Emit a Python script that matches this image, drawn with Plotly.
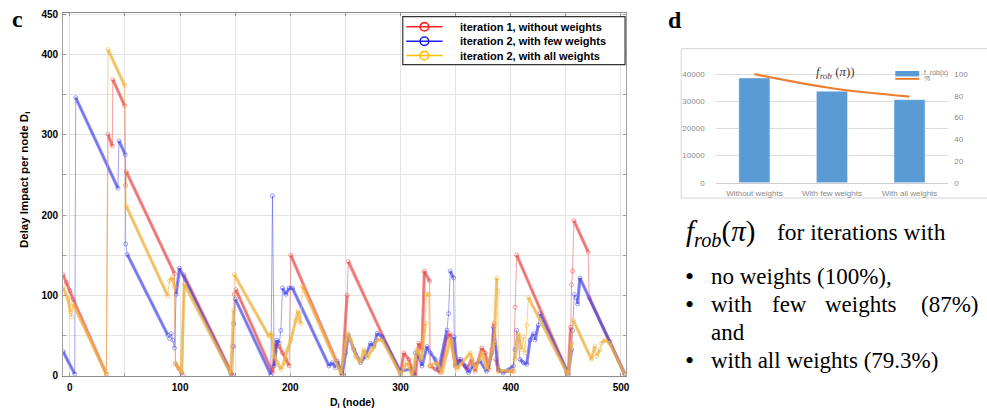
import plotly.graph_objects as go

# ---------------- panel c data (node index D_i vs delay impact) ----------------
red_x = [-6.2, -3.1, 0, 2.9, 33.1, 34.6, 38.5, 39, 49.7, 50.5, 51.2, 94.9, 95.8, 99, 101.5, 102.4,
         103.3, 147.7, 148.6, 149.2, 150.7, 183.8, 186.9, 189.9, 192.9, 195.9, 198.9, 200.4, 247,
         251.5, 252.6, 300, 302.9, 307.4, 310.4, 313.5, 316.5, 319.5, 321.6, 326.4, 327, 331.5, 336,
         342.1, 345.1, 349.6, 352.6, 360.2, 364.7, 367.7, 373.8, 376.8, 379.8, 382.8, 384.9, 386.5,
         388.8, 402.4, 403.9, 405.4, 452.2, 454.3, 455.2, 456.1, 457.3, 470.2, 471.1, 503.4]
red_y = [125.6, 115.4, 105.3, 95, 1.5, 300.7, 286, 369, 336.5, 237, 254, 127, 15, 8, 3, 0,
         125.6, 0, 36, 101, 107, 3.5, 40, 36, 28, 20, 12, 150, 1,
         100, 142, 1.5, 28, 20, 7.6, 0, 40, 32, 130, 117.5, 11.6, 7.6, 3.5,
         48, 52, 11.6, 20, 7.6, 20, 5, 34, 28, 7.6, 32, 65, 20,
         5, 5, 85, 150, 1.5, 60, 113, 130, 193, 154, 97, 1.5]

blue_x = [-6.2, 4.4, 5.3, 43.6, 44.5, 50.3, 50.6, 52.1, 88.8, 90.4, 91.9, 93.4, 94.9, 96.4, 99.4,
          146.2, 147.7, 148.6, 150.1, 182.3, 183.8, 185.4, 187.8, 189.9, 191.4, 192.9, 195.9, 198.9,
          201.9, 235.1, 238.1, 241.1, 242.6, 247.1, 250.2, 252.6, 257.7, 263.7, 268.2, 272.8, 275.8,
          278.8, 283.3, 299.9, 309, 312, 313.5, 316.5, 319.5, 324, 327, 331.5, 334.6, 342.1, 343.6,
          345.1, 348.1, 348.7, 351.1, 354.8, 358.7, 361.7, 366, 372, 378, 382.8, 384.3, 388.8, 393,
          402.4, 403.9, 405.4, 406.9, 408.4, 411.4, 414.5, 417.5, 420.5, 422, 425, 426.5, 450.6,
          452.2, 455.2, 456.1, 457.6, 459.1, 460.6, 462.7, 489.8, 503.4]
blue_y = [29.7, 1.5, 346.6, 233.5, 292.5, 275.4, 164, 150.8, 50.3, 46, 52, 44, 34, 101, 133.7,
          1.5, 36, 64.5, 95, 0.6, 224, 11.6, 44, 40, 56, 109, 101, 109,
          109, 11.6, 15.7, 9.6, 17.7, 1.5, 28, 50.3, 32, 15.7, 23.8, 40, 36,
          52.3, 48.3, 5.5, 7.6, 0, 28, 24, 11.6, 36, 28, 19.8, 7.6, 56.4, 77,
          130, 121.5, 48, 11.6, 19.8, 11.6, 3.5, 12, 18, 5, 28, 60, 7.6, 3,
          11.6, 32, 56, 44, 19.8, 15.7, 13.7, 44, 52, 44, 62.5, 76.8, 5.5,
          1.5, 32, 56, 101, 97, 89, 121.5, 42, 1.5]

yellow_x = [-6.2, -1.6, 0.5, 1.4, 2.9, 33.1, 34.6, 49.7, 51.2, 88.8, 90.4, 93, 95, 95.8, 101, 103.9,
            146, 148.6, 149.2, 180.8, 182.9, 185.4, 188.4, 191.4, 194.4, 197.4, 200.4, 205, 207,
            209.5, 211, 246, 251.7, 254.7, 259.2, 263.7, 266.7, 269.8, 274.3, 278.8, 283.3, 299.9,
            305.9, 310.4, 315, 319, 322.5, 323.4, 325.5, 326.4, 333, 337.6, 345.1, 351.1, 363.2,
            367.7, 373.8, 378.3, 385, 387.3, 388.2, 388.8, 390.3, 402.4, 403.9, 406.9, 409.9, 411.4,
            413, 414.5, 416, 450.6, 452.2, 455.2, 456.7, 473.2, 476.3, 477.8, 480.8, 482.3, 485.3,
            489.8, 503.4]
yellow_y = [109.3, 95, 79, 73, 89, 1.5, 406.5, 361.7, 211, 99, 118, 122, 110, 15, 3.5, 113.4,
            2, 81, 125.6, 48.3, 52.3, 23.8, 15.7, 7.6, 15.7, 32, 44, 68.6, 80,
            64.5, 111, 2, 52.3, 44.2, 23.8, 15.7, 32, 21.8, 32, 44.2, 44.2, 1.5,
            15.7, 0, 32, 20, 65, 101, 101, 11.6, 15.7, 3.5, 44, 7.6, 28,
            7.6, 28, 7.6, 40, 121.5, 105, 7.6, 5.5, 5.5, 20, 52, 32, 48,
            28, 62.5, 97, 4, 1.5, 40, 68.6, 19.8, 36, 23.8, 32, 40, 44.2,
            40, 1.5]

series_names = ["iteration 1, without weights", "iteration 2, with few weights",
                "iteration 2, with all weights"]
x_ticks = [0, 100, 200, 300, 400, 500]
y_ticks = [0, 100, 200, 300, 400, 450]

# ---------------- panel d data ----------------
bar_categories = ["Without weights", "With few weights", "With all weights"]
frob_values = [38560, 33650, 30600]
frob_percent = [100, 87, 79.3]
left_ticks = [0, 10000, 20000, 30000, 40000]
right_ticks = [0, 20, 40, 60, 80, 100]

W, H = 987, 418
def px(x):
    return x / W
def py(y):
    return 1 - y / H

def ramp_segments(xs, ys, min_dx=2.0):
    bx, by = [], []
    for i in range(len(xs) - 1):
        if xs[i + 1] - xs[i] >= min_dx:
            bx += [xs[i], xs[i + 1], None]
            by += [ys[i], ys[i + 1], None]
    return bx, by

fig = go.Figure()

band_cols = ["rgba(232,70,70,0.62)", "rgba(70,70,232,0.62)", "rgba(240,180,70,0.7)"]
thin_cols = ["rgba(236,70,70,0.5)", "rgba(70,70,236,0.5)", "rgba(242,180,60,0.6)"]
legend_cols = ["#ff2020", "#2020ff", "#ffbf00"]

for (xs, ys), bc, tc in zip([(red_x, red_y), (blue_x, blue_y), (yellow_x, yellow_y)],
                            band_cols, thin_cols):
    bx, by = ramp_segments(xs, ys)
    fig.add_trace(go.Scatter(x=bx, y=by, mode="lines", line=dict(color=bc, width=3.2),
                             showlegend=False, hoverinfo="skip", xaxis="x", yaxis="y"))
    fig.add_trace(go.Scatter(x=xs, y=ys, mode="lines+markers", line=dict(color=tc, width=1),
                             marker=dict(symbol="circle-open", size=4, color=tc, line=dict(width=1)),
                             showlegend=False, hoverinfo="skip", xaxis="x", yaxis="y"))

# panel d
fig.add_trace(go.Bar(x=bar_categories, y=frob_values, marker_color="#5b9bd5", width=0.4,
                     showlegend=False, xaxis="x2", yaxis="y2"))
fig.add_trace(go.Scatter(x=bar_categories, y=frob_percent, mode="lines",
                         line=dict(color="#ed7d31", width=2.2, shape="spline"),
                         showlegend=False, cliponaxis=False, xaxis="x2", yaxis="y3"))

tick_font = dict(family="Liberation Sans", size=10, color="black", weight="bold")
small_font = dict(family="Liberation Sans", size=8, color="#8a8a8a")

fig.update_layout(
    width=W, height=H, autosize=False,
    margin=dict(l=0, r=0, t=0, b=0),
    paper_bgcolor="white", plot_bgcolor="white",
    hovermode=False, showlegend=False,
    xaxis=dict(domain=[px(63.3), px(628.3)], range=[-6.15, 504.9], tickvals=x_ticks,
               tickfont=tick_font, showgrid=True, gridcolor="#e4e4e4",
               minor=dict(dtick=50, tick0=0, showgrid=True, gridcolor="#e4e4e4",
                          ticks="inside", ticklen=3, tickcolor="#999"),
               ticks="inside", ticklen=3, tickcolor="#999", showline=True, linecolor="#8c8c8c",
               mirror="ticks", zeroline=False, anchor="y", ticklabelstandoff=2),
    yaxis=dict(domain=[py(380.3), py(9.3)], range=[-1, 452], tickvals=y_ticks,
               tickfont=tick_font, showgrid=True, gridcolor="#e4e4e4",
               minor=dict(dtick=50, tick0=0, showgrid=True, gridcolor="#e4e4e4",
                          ticks="inside", ticklen=3, tickcolor="#999"),
               ticks="inside", ticklen=3, tickcolor="#999", showline=True, linecolor="#a0a0a0",
               mirror="ticks", zeroline=False, anchor="x", ticklabelstandoff=2),
    xaxis2=dict(domain=[px(717.8), px(951.2)], anchor="y2", tickfont=small_font,
                showline=True, linecolor="#d0d0d0", ticks="", showgrid=False,
                ticklabelstandoff=3),
    yaxis2=dict(domain=[py(182.7), py(66.1)], range=[0, 42000], tickvals=left_ticks,
                tickformat="d", tickfont=small_font, showgrid=True, gridcolor="#dcdcdc",
                zeroline=False, showline=False, anchor="x2", ticklabelstandoff=10),
    yaxis3=dict(domain=[py(182.7), py(66.1)], range=[0, 105], tickvals=right_ticks,
                tickfont=small_font, overlaying="y2", side="right", showgrid=False,
                zeroline=False, showline=False, anchor="x2", ticklabelstandoff=5),
)

def note(x, y, text, font, anchor="left", **kw):
    return dict(x=px(x), y=py(y), xref="paper", yref="paper", text=text, showarrow=False,
                xanchor=anchor, yanchor="middle", font=font, **kw)

annotations = [
    note(17.5, 15, "<b>c</b>", dict(family="Liberation Serif", size=24, color="black"), "center"),
    note(677, 16, "<b>d</b>", dict(family="Liberation Serif", size=24, color="black"), "center"),
    note(25, 180, "Delay Impact per node D<sub>i</sub>",
         dict(family="Liberation Sans", size=11.5, color="black", weight="bold"), "center",
         textangle=-90),
    note(354, 408, "D<sub>i</sub> (node)",
         dict(family="Liberation Sans", size=10.5, color="black", weight="bold"), "center"),
    note(838, 70, "<i>f</i><sub><i>rob</i></sub> (<i>π</i>))",
         dict(family="Liberation Serif", size=13, color="#404040"), "center"),
    note(925, 71, "f_rob(x)", dict(family="Liberation Sans", size=7, color="#8a8a8a")),
    note(925, 76.5, "%", dict(family="Liberation Sans", size=7, color="#8a8a8a")),
    note(686, 234, "<i>f</i><sub><i>rob</i></sub>(<i>π</i>)",
         dict(family="Liberation Serif", size=29, color="black")),
    note(777, 233, "for iterations with", dict(family="Liberation Serif", size=23.5, color="black")),
]

# legend of panel c (drawn as shapes + text)
leg_rows = [23.3, 38.0, 52.7]
leg_font = dict(family="Liberation Sans", size=11, color="black", weight="bold")
shapes = [
    dict(type="rect", xref="paper", yref="paper", x0=px(404), x1=px(627), y0=py(62), y1=py(13),
         line=dict(color="#333333", width=1.2), fillcolor="white"),
]
for yy, name, col in zip(leg_rows, series_names, legend_cols):
    shapes.append(dict(type="line", xref="paper", yref="paper", x0=px(407.5), x1=px(444),
                       y0=py(yy), y1=py(yy), line=dict(color=col, width=1.6)))
    shapes.append(dict(type="circle", xref="paper", yref="paper", x0=px(421.4), x1=px(430),
                       y0=py(yy + 4.3), y1=py(yy - 4.3), line=dict(color=col, width=1.6),
                       fillcolor="rgba(255,255,255,0)"))
    annotations.append(note(459, yy, name, leg_font))

serif = dict(family="Liberation Serif", size=23, color="black")
bullet_font = dict(family="Liberation Serif", size=26, color="black")
bullet_rows = [(278.5, "no weights (100%),"), (364.5, "with all weights (79.3%)")]
for yy in (278.5, 307.5, 364.5):
    annotations.append(note(692, yy, "•", bullet_font, "center"))
for yy, t in bullet_rows:
    annotations.append(note(711, yy, t, serif))
for xx, t, anc in [(711, "with", "left"), (772, "few", "left"), (826, "weights", "left"),
                   (983, "(87%)", "right")]:
    annotations.append(note(xx, 307.5, t, serif, anc))
annotations.append(note(711, 335.5, "and", serif))

shapes += [
    dict(type="rect", xref="paper", yref="paper", x0=px(683.3), x1=1.02, y0=py(198.3), y1=py(45.7),
         line=dict(color="#d4d4d4", width=1), fillcolor="rgba(0,0,0,0)", layer="below"),
    dict(type="rect", xref="paper", yref="paper", x0=px(898), x1=px(922), y0=py(74), y1=py(68.5),
         line=dict(width=0), fillcolor="#5b9bd5"),
    dict(type="line", xref="paper", yref="paper", x0=px(898), x1=px(922), y0=py(76.5), y1=py(76.5),
         line=dict(color="#ed7d31", width=2)),
]
fig.update_layout(annotations=annotations, shapes=shapes)

fig.write_html("out.html", config={"displayModeBar": False},
               post_script="document.body.style.margin='0';")
